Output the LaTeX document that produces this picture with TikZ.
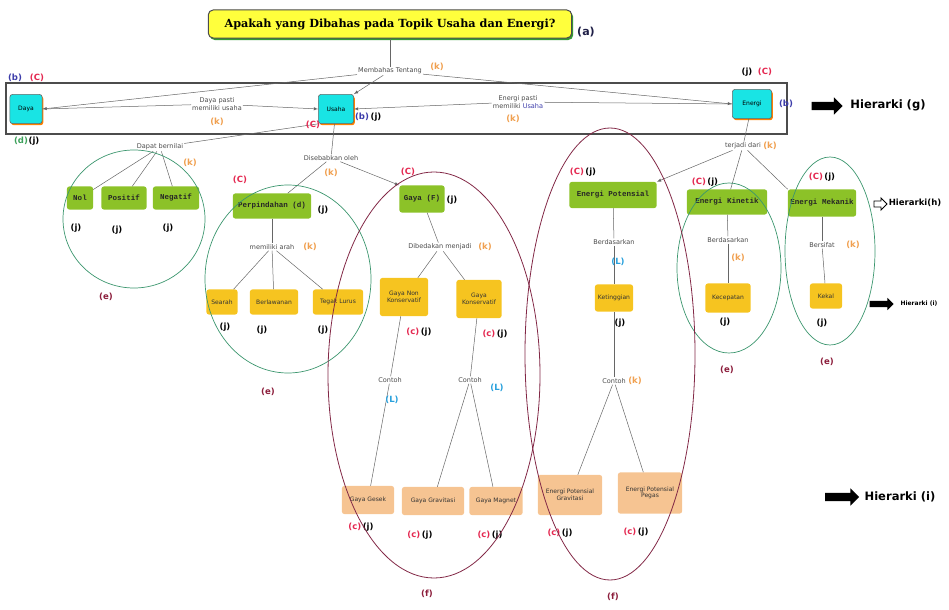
\documentclass[tikz,border=0pt]{standalone}
\usepackage{fontspec}
\setmainfont{DejaVu Sans}
\setmonofont{Liberation Mono}
\newfontfamily\titlefont{DejaVu Serif}
\usetikzlibrary{shadows,shapes.arrows}

\definecolor{kotakcyan}{RGB}{25,228,228}
\definecolor{kotakhijau}{RGB}{140,194,40}
\definecolor{kotakkuning}{RGB}{246,196,32}
\definecolor{kotakpeach}{RGB}{246,196,146}
\definecolor{judulkuning}{RGB}{255,255,60}
\definecolor{tagoranye}{RGB}{240,160,80}
\definecolor{tagmerah}{RGB}{228,40,80}
\definecolor{tagbiru}{RGB}{60,60,170}
\definecolor{tagcyan}{RGB}{40,160,220}
\definecolor{taghijau}{RGB}{60,160,90}
\definecolor{tagmarun}{RGB}{140,30,60}
\definecolor{tagnavy}{RGB}{30,30,70}
\definecolor{lingkarhijau}{RGB}{60,150,110}
\definecolor{lingkarmerah}{RGB}{130,40,70}

\tikzset{
  konsep/.style={rounded corners=2.5pt, align=center, inner sep=1pt, font=\fontsize{6}{6.5}\selectfont},
  cyanbox/.style={konsep, fill=kotakcyan, draw=black!60, line width=0.6pt,
    drop shadow={shadow xshift=1.2pt, shadow yshift=-1.6pt, fill=orange, opacity=1}},
  hijaubox/.style={konsep, fill=kotakhijau, text=black!85, font=\ttfamily\bfseries\fontsize{7.5}{8}\selectfont},
  kuningbox/.style={konsep, fill=kotakkuning, text=black!80},
  peachbox/.style={konsep, fill=kotakpeach, text=black!80},
  kata/.style={font=\fontsize{6.5}{7.5}\selectfont, text=black!70, fill=white, inner sep=1pt, align=center},
  tanda/.style={font=\bfseries\fontsize{8.5}{9}\selectfont, inner sep=0pt},
  hub/.style={draw=black!60, line width=0.5pt},
  cincinhijau/.style={draw=lingkarhijau, line width=0.7pt},
  cincinmerah/.style={draw=lingkarmerah, line width=0.8pt},
  panah/.style={single arrow, fill=black, inner xsep=0pt},
  hierarki/.style={font=\bfseries, inner sep=0pt}
}

\begin{document}
\begin{tikzpicture}[x=0.035cm,y=-0.035cm]
\useasboundingbox (0,0) rectangle (949,610);

% judul dan kotak hierarki (g)
\node[konsep, fill=judulkuning, draw=black!70, line width=1pt, rounded corners=5pt,
  minimum width=362pt, minimum height=28pt, font=\titlefont\bfseries\fontsize{11.2}{12}\selectfont,
  drop shadow={shadow xshift=1.5pt, shadow yshift=-2pt, fill=green!50!black, opacity=0.8}]
  (judul) at (390,24) {Apakah yang Dibahas pada Topik Usaha dan Energi?};
\draw[draw=black!70, line width=1.2pt] (6,83) rectangle (787,134);

\node[cyanbox, minimum width=32pt, minimum height=29pt] (daya) at (26,109) {Daya};
\node[cyanbox, minimum width=35pt, minimum height=29pt] (usaha) at (336,109) {Usaha};
\node[cyanbox, minimum width=39pt, minimum height=29pt] (energi) at (752,104) {Energi};

\node[kata] (memb) at (390,71) {Membahas Tentang};
\node[kata] (dpasti) at (217,104) {Daya pasti\\memiliki usaha};
\node[kata] (epasti) at (518,102) {Energi pasti\\memiliki {\color{tagbiru}Usaha}};

\draw[hub] (judul) -- (memb);
\draw[hub,-latex] (memb) -- (daya.east);
\draw[hub,-latex] (memb) -- (usaha.north east);
\draw[hub,-latex] (memb) -- (energi.west);
\draw[hub] (daya.east) -- (dpasti);
\draw[hub,-latex] (dpasti) -- (usaha.west);
\draw[hub] (energi.west) -- (epasti);
\draw[hub,-latex] (epasti) -- (usaha.east);

% cabang usaha
\node[kata] (dapat) at (160,147) {Dapat bernilai};
\node[hijaubox, minimum width=26pt, minimum height=23pt] (nol) at (80,198) {Nol};
\node[hijaubox, minimum width=45pt, minimum height=23pt] (positif) at (124,198) {Positif};
\node[hijaubox, minimum width=46pt, minimum height=23pt] (negatif) at (176,198) {Negatif};
\draw[hub] (usaha.south west) -- (dapat);
\draw[hub] (dapat) -- (nol);
\draw[hub] (dapat) -- (positif);
\draw[hub] (dapat) -- (negatif);

\node[kata] (sebab) at (331,158) {Disebabkan oleh};
\node[hijaubox, minimum width=78pt, minimum height=25pt] (perpin) at (272,206) {Perpindahan (d)};
\node[kata] (arah) at (272,247) {memiliki arah};
\node[kuningbox, minimum width=31pt, minimum height=25pt] (searah) at (222,302) {Searah};
\node[kuningbox, minimum width=48pt, minimum height=25pt] (lawan) at (274,302) {Berlawanan};
\node[kuningbox, minimum width=50pt, minimum height=25pt] (tegak) at (338,302) {Tegak Lurus};
\draw[hub] (usaha) -- (sebab);
\draw[hub] (sebab) -- (perpin);
\draw[hub] (perpin) -- (arah);
\draw[hub] (arah) -- (searah);
\draw[hub] (arah) -- (lawan);
\draw[hub] (arah) -- (tegak);

\node[hijaubox, minimum width=45pt, minimum height=27pt] (gaya) at (422,199) {Gaya (F)};
\node[kata] (beda) at (440,247) {Dibedakan menjadi};
\node[kuningbox, minimum width=48pt, minimum height=38pt] (gnk) at (404,297) {Gaya Non\\Konservatif};
\node[kuningbox, minimum width=45pt, minimum height=38pt] (gk) at (479,299) {Gaya\\Konservatif};
\node[kata] (contoh1) at (390,380) {Contoh};
\node[kata] (contoh2) at (470,380) {Contoh};
\node[peachbox, minimum width=52pt, minimum height=28pt] (gesek) at (368,500) {Gaya Gesek};
\node[peachbox, minimum width=62pt, minimum height=28pt] (gravitasi) at (433,501) {Gaya Gravitasi};
\node[peachbox, minimum width=53pt, minimum height=28pt] (magnet) at (496,501) {Gaya Magnet};
\draw[hub,-latex] (sebab) -- (gaya.north west);
\draw[hub] (gaya) -- (beda);
\draw[hub] (beda) -- (gnk);
\draw[hub] (beda) -- (gk);
\draw[hub] (gnk) -- (contoh1);
\draw[hub] (contoh1) -- (gesek);
\draw[hub] (gk) -- (contoh2);
\draw[hub] (contoh2) -- (gravitasi);
\draw[hub] (contoh2) -- (magnet);

% cabang energi
\node[kata] (terjadi) at (743,146) {terjadi dari};
\node[hijaubox, minimum width=87pt, minimum height=26pt] (ep) at (613,195) {Energi Potensial};
\node[hijaubox, minimum width=80pt, minimum height=25pt] (ek) at (727,202) {Energi Kinetik};
\node[hijaubox, minimum width=68pt, minimum height=27pt] (em) at (822,203) {Energi Mekanik};
\draw[hub] (energi) -- (terjadi);
\draw[hub,-latex] (terjadi) -- (ep.north east);
\draw[hub] (terjadi) -- (ek);
\draw[hub] (terjadi) -- (em.north west);

\node[kata] (berd1) at (614,242) {Berdasarkan};
\node[kuningbox, minimum width=38pt, minimum height=27pt] (tinggi) at (614,298) {Ketinggian};
\node[kata] (contoh3) at (614,381) {Contoh};
\node[peachbox, minimum width=64pt, minimum height=40pt] (epg) at (570,495) {Energi Potensial\\Gravitasi};
\node[peachbox, minimum width=64pt, minimum height=41pt] (epp) at (650,493) {Energi Potensial\\Pegas};
\draw[hub] (ep) -- (berd1);
\draw[hub] (berd1) -- (tinggi);
\draw[hub] (tinggi) -- (contoh3);
\draw[hub] (contoh3) -- (epg);
\draw[hub] (contoh3) -- (epp);

\node[kata] (berd2) at (728,240) {Berdasarkan};
\node[kuningbox, minimum width=45pt, minimum height=29pt] (cepat) at (728,298) {Kecepatan};
\draw[hub] (ek) -- (berd2);
\draw[hub] (berd2) -- (cepat);

\node[kata] (sifat) at (822,245) {Bersifat};
\node[kuningbox, minimum width=32pt, minimum height=25pt] (kekal) at (826,296) {Kekal};
\draw[hub] (em) -- (sifat);
\draw[hub] (sifat) -- (kekal);

% tanda huruf
\node[tanda, text=tagnavy, font=\bfseries\fontsize{11}{12}\selectfont] (ta) at (586,32) {(a)};
\node[tanda, text=tagoranye] (kmemb) at (437,67) {(k)};
\node[tanda, text=tagbiru] (bdaya) at (15,78) {(b)};
\node[tanda, text=tagmerah] (cdaya) at (37,78) {(C)};
\node[tanda, text=taghijau] (ddaya) at (21,141) {(d)};
\node[tanda] (jdaya) at (34,141) {(j)};
\node[tanda, text=tagoranye] (kdpasti) at (217,122) {(k)};
\node[tanda, text=tagmerah] (cusaha) at (313,125) {(C)};
\node[tanda, text=tagbiru] (busaha) at (362,117) {(b)};
\node[tanda] (jusaha) at (376,117) {(j)};
\node[tanda, text=tagoranye] (kepasti) at (513,119) {(k)};
\node[tanda] (jenergi) at (747,72) {(j)};
\node[tanda, text=tagmerah] (cenergi) at (765,72) {(C)};
\node[tanda, text=tagbiru] (benergi) at (786,104) {(b)};

\node[tanda, text=tagoranye] (kdapat) at (190,163) {(k)};
\node[tanda] (jnol) at (76,228) {(j)};
\node[tanda] (jpositif) at (117,230) {(j)};
\node[tanda] (jnegatif) at (168,228) {(j)};
\node[tanda, text=tagmarun] (e1) at (106,297) {(e)};

\node[tanda, text=tagoranye] (ksebab) at (331,173) {(k)};
\node[tanda, text=tagmerah] (cperpin) at (240,180) {(C)};
\node[tanda] (jperpin) at (323,210) {(j)};
\node[tanda, text=tagoranye] (karah) at (310,247) {(k)};
\node[tanda] (jsearah) at (225,327) {(j)};
\node[tanda] (jlawan) at (262,330) {(j)};
\node[tanda] (jtegak) at (323,330) {(j)};
\node[tanda, text=tagmarun] (e2) at (268,392) {(e)};

\node[tanda, text=tagmerah] (cgaya) at (408,172) {(C)};
\node[tanda] (jgaya) at (452,200) {(j)};
\node[tanda, text=tagoranye] (kbeda) at (485,247) {(k)};
\node[tanda] (cjgnk) at (419,332) {{\color{tagmerah}(c)}\,(j)};
\node[tanda] (cjgk) at (495,334) {{\color{tagmerah}(c)}\,(j)};
\node[tanda, text=tagcyan] (lcontoh1) at (392,400) {(L)};
\node[tanda, text=tagcyan] (lcontoh2) at (497,388) {(L)};
\node[tanda] (cjgesek) at (361,527) {{\color{tagmerah}(c)}\,(j)};
\node[tanda] (cjgrav) at (420,535) {{\color{tagmerah}(c)}\,(j)};
\node[tanda] (cjmagnet) at (490,535) {{\color{tagmerah}(c)}\,(j)};
\node[tanda] (cjepg) at (560,533) {{\color{tagmerah}(c)}\,(j)};
\node[tanda] (cjepp) at (636,532) {{\color{tagmerah}(c)}\,(j)};
\node[tanda, text=tagmarun] (f1) at (427,594) {(f)};
\node[tanda, text=tagmarun] (f2) at (613,597) {(f)};

\node[tanda, text=tagoranye] (kterjadi) at (770,146) {(k)};
\node[tanda] (cjep) at (583,172) {{\color{tagmerah}(C)}\,(j)};
\node[tanda, text=tagcyan] (lberd1) at (618,262) {(L)};
\node[tanda] (jtinggi) at (620,323) {(j)};
\node[tanda, text=tagoranye] (kcontoh3) at (635,381) {(k)};
\node[tanda] (cjek) at (705,182) {{\color{tagmerah}(C)}\,(j)};
\node[tanda, text=tagoranye] (kberd2) at (738,258) {(k)};
\node[tanda] (jcepat) at (725,322) {(j)};
\node[tanda, text=tagmarun] (e3) at (727,370) {(e)};
\node[tanda] (cjem) at (822,177) {{\color{tagmerah}(C)}\,(j)};
\node[tanda, text=tagoranye] (ksifat) at (853,245) {(k)};
\node[tanda] (jkekal) at (822,323) {(j)};
\node[tanda, text=tagmarun] (e4) at (827,362) {(e)};

% lingkaran kelompok
\draw[cincinhijau] (134,219) ellipse [x radius=71, y radius=69];
\draw[cincinhijau] (288,279) ellipse [x radius=83, y radius=94];
\draw[cincinhijau] (729,268) ellipse [x radius=52, y radius=85];
\draw[cincinhijau] (830,251) ellipse [x radius=45, y radius=94];
\draw[cincinmerah] (434,375) ellipse [x radius=106, y radius=203];
\draw[cincinmerah] (610,354) ellipse [x radius=85, y radius=226];

% keterangan hierarki
\node[panah, inner ysep=4pt, single arrow head extend=4.5pt, minimum height=31pt] (pg) at (825,106) {};
\node[hierarki, font=\bfseries\fontsize{11.5}{12}\selectfont] (hg) at (888,105) {Hierarki (g)};
\node[panah, fill=white, draw=black, line width=0.9pt, inner ysep=2.5pt, single arrow head extend=3pt, minimum height=13pt] (ph) at (879,204) {};
\node[hierarki, font=\bfseries\fontsize{8.5}{9}\selectfont] (hh) at (915,203) {Hierarki(h)};
\node[panah, inner ysep=3pt, single arrow head extend=3pt, minimum height=24pt] (pi1) at (880,304) {};
\node[hierarki, font=\bfseries\fontsize{6}{7}\selectfont] (hi1) at (919,304) {Hierarki (i)};
\node[panah, inner ysep=4pt, single arrow head extend=4.5pt, minimum height=34pt] (pi2) at (840,497) {};
\node[hierarki, font=\bfseries\fontsize{11.5}{12}\selectfont] (hi2) at (900,497) {Hierarki (i)};
\end{tikzpicture}
\end{document}
